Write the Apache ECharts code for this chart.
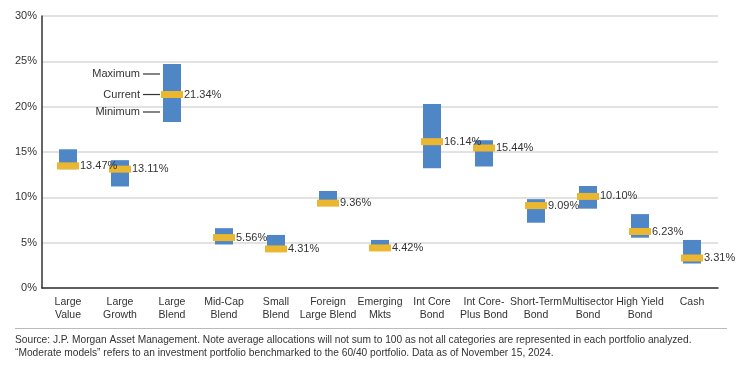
<!DOCTYPE html>
<html><head><meta charset="utf-8">
<script src="https://cdn.jsdelivr.net/npm/echarts@6/dist/echarts.min.js"></script>
<style>html,body{margin:0;padding:0;background:#fff}#c{width:746px;height:365px}</style>
</head><body><div id="c"></div>
<script>
var categories = ['Large\nValue','Large\nGrowth','Large\nBlend','Mid-Cap\nBlend','Small\nBlend','Foreign\nLarge Blend','Emerging\nMkts','Int Core\nBond','Int Core-\nPlus Bond','Short-Term\nBond','Multisector\nBond','High Yield\nBond','Cash'];
var minimum = [13.1, 11.2, 18.3, 4.8, 4.2, 9.2, 4.3, 13.2, 13.4, 7.2, 8.75, 5.55, 2.7];
var maximum = [15.3, 14.1, 24.7, 6.6, 5.85, 10.7, 5.3, 20.3, 16.3, 9.8, 11.25, 8.15, 5.3];
var current = [13.47, 13.11, 21.34, 5.56, 4.31, 9.36, 4.42, 16.14, 15.44, 9.09, 10.10, 6.23, 3.31];
var yTicks = [0, 5, 10, 15, 20, 25, 30];
var sourceLines = ['Source: J.P. Morgan Asset Management. Note average allocations will not sum to 100 as not all categories are represented in each portfolio analyzed.',
 '\u201cModerate models\u201d refers to an investment portfolio benchmarked to the 60/40 portfolio. Data as of November 15, 2024.'];

var FONT = '"Liberation Sans", Arial, sans-serif';
var range = maximum.map(function(v,i){return +(v - minimum[i]).toFixed(2);});
var chart = echarts.init(document.getElementById('c'), null, {renderer:'canvas'});
chart.setOption({
  animation:false,
  grid:{left:42,right:28,top:16,bottom:77},
  xAxis:{type:'category',data:categories,
    axisLine:{lineStyle:{color:'#333',width:1.5}},axisTick:{show:false},
    axisLabel:{color:'#333',fontSize:10.5,fontFamily:FONT,margin:8,lineHeight:13,interval:0}},
  yAxis:{type:'value',min:yTicks[0],max:yTicks[yTicks.length-1],interval:5,
    axisLine:{show:true,lineStyle:{color:'#333',width:1.5}},axisTick:{show:false},
    axisLabel:{color:'#333',fontSize:11,fontFamily:FONT,margin:5,formatter:'{value}%'},
    splitLine:{lineStyle:{color:'#d9d9d9',width:1.5}}},
  series:[
    {type:'bar',stack:'r',data:minimum,barWidth:18,itemStyle:{color:'transparent'},silent:true},
    {type:'bar',stack:'r',data:range,barWidth:18,itemStyle:{color:'#4F86C6'}},
    {type:'scatter',data:current,symbol:'rect',symbolSize:[22,7],itemStyle:{color:'#EBB630',opacity:1},z:5,
      label:{show:true,position:'right',distance:1,color:'#333',fontSize:11,fontFamily:FONT,
        formatter:function(p){return p.value.toFixed(2)+'%';}}}
  ]
});

var idx = 2;
var xC = chart.convertToPixel({xAxisIndex:0}, categories[idx]);
var ann = [['Maximum', 74], ['Current', null], ['Minimum', 112]];
var yCur = chart.convertToPixel({yAxisIndex:0}, current[idx]);
var els = [];
ann.forEach(function(a){
  var y = a[1] === null ? yCur : a[1];
  var lx = xC - 29;
  els.push({type:'line',shape:{x1:lx,y1:y,x2:lx+17,y2:y},style:{stroke:'#333',lineWidth:1.2}});
  els.push({type:'text',x:lx-3,y:y,style:{text:a[0],fill:'#333',font:'11px '+FONT,textAlign:'right',textVerticalAlign:'middle'}});
});
els.push({type:'line',shape:{x1:15,y1:328.5,x2:727,y2:328.5},style:{stroke:'#bbb',lineWidth:1}});
sourceLines.forEach(function(t,i){
  els.push({type:'text',x:15,y:340+i*13,style:{text:t,fill:'#333',font:'10.2px '+FONT,textVerticalAlign:'middle'}});
});
chart.setOption({graphic:els});
</script></body></html>
